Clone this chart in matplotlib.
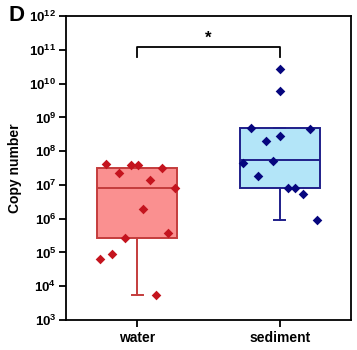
import math

import matplotlib
matplotlib.use("Agg")
import matplotlib.pyplot as plt
from matplotlib.ticker import FixedLocator, FuncFormatter, NullLocator

plt.rcParams["font.family"] = ["Liberation Sans", "DejaVu Sans"]
plt.rcParams["mathtext.fontset"] = "custom"
plt.rcParams["mathtext.rm"] = "Liberation Sans"
plt.rcParams["mathtext.bf"] = "Liberation Sans:bold"

groups = ["water", "sediment"]

# box summary (whisker low, Q1, median, Q3, whisker high)
water_box = [5.6e3, 2.7e5, 8.2e6, 3.2e7, 3.2e7]
sediment_box = [9.2e5, 8.2e6, 5.5e7, 4.9e8, 4.9e8]

# individual samples and their horizontal scatter
water_values = [4.2e7, 2.3e7, 3.9e7, 3.8e7, 3.2e7, 1.4e7, 8.2e6, 1.95e6,
                2.7e5, 3.8e5, 6.5e4, 9.1e4, 5.6e3]
water_jitter = [-0.218, -0.126, -0.042, 0.007, 0.175, 0.091, 0.267, 0.042,
                -0.084, 0.218, -0.26, -0.175, 0.133]
sediment_values = [2.7e10, 6.0e9, 4.9e8, 4.6e8, 2.8e8, 2.0e8, 4.5e7, 5.1e7,
                   1.85e7, 8.2e6, 8.2e6, 5.4e6, 9.2e5]
sediment_jitter = [0.0, 0.0, -0.204, 0.211, 0.0, -0.098, -0.26, -0.049,
                   -0.154, 0.056, 0.105, 0.161, 0.26]

significance = "*"

fig = plt.figure(figsize=(3.57, 3.5), dpi=100)
ax = fig.add_axes([0.185, 0.0857, 0.798, 0.868])

face = ["#fa9090", "#b3e5f8"]
edge = ["#c43c3c", "#1f1f8a"]
dots = ["#c4141e", "#06067e"]

for i, box in enumerate([water_box, sediment_box]):
    lo, q1, med, q3, hi = box
    stats = [{"whislo": lo, "q1": q1, "med": med, "q3": q3, "whishi": hi}]
    ax.bxp(stats, positions=[i], widths=0.56, showfliers=False,
           patch_artist=True,
           boxprops=dict(facecolor=face[i], edgecolor=edge[i], linewidth=1.4),
           medianprops=dict(color=edge[i], linewidth=1.4),
           whiskerprops=dict(color=edge[i], linewidth=1.4),
           capprops=dict(color=edge[i], linewidth=1.4),
           capwidths=0.08)

for i, (vals, jit) in enumerate([(water_values, water_jitter),
                                 (sediment_values, sediment_jitter)]):
    ax.scatter([i + j for j in jit], vals, marker="D", s=24,
               color=dots[i], zorder=5, linewidths=0)

ax.set_yscale("log")
ax.set_ylim(1e3, 1e12)
ax.set_xlim(-0.5, 1.5)
ax.yaxis.set_major_locator(FixedLocator([10.0 ** k for k in range(3, 13)]))
ax.yaxis.set_minor_locator(NullLocator())
ax.yaxis.set_major_formatter(
    FuncFormatter(lambda v, p: r"$\mathbf{10^{%d}}$" % round(math.log10(v))))
ax.set_xticks([0, 1])
ax.set_xticklabels(groups, fontsize=10, fontweight="bold")
ax.tick_params(axis="y", labelsize=9.5, length=5, width=1.3, pad=2)
ax.tick_params(axis="x", length=5, width=1.3, pad=3)
for s in ax.spines.values():
    s.set_linewidth(1.3)

ax.set_ylabel("Copy number", fontsize=10, fontweight="bold", labelpad=5)

# significance bracket
ax.plot([0, 0, 1, 1], [6.2e10, 1.2e11, 1.2e11, 6.2e10], color="black", lw=1.3)
ax.text(0.5, 1.3e11, significance, ha="center", va="bottom", fontsize=12,
        fontweight="bold")

fig.text(0.025, 0.985, "D", fontsize=16, fontweight="bold", va="top", ha="left")

fig.savefig("out.png", dpi=100)
